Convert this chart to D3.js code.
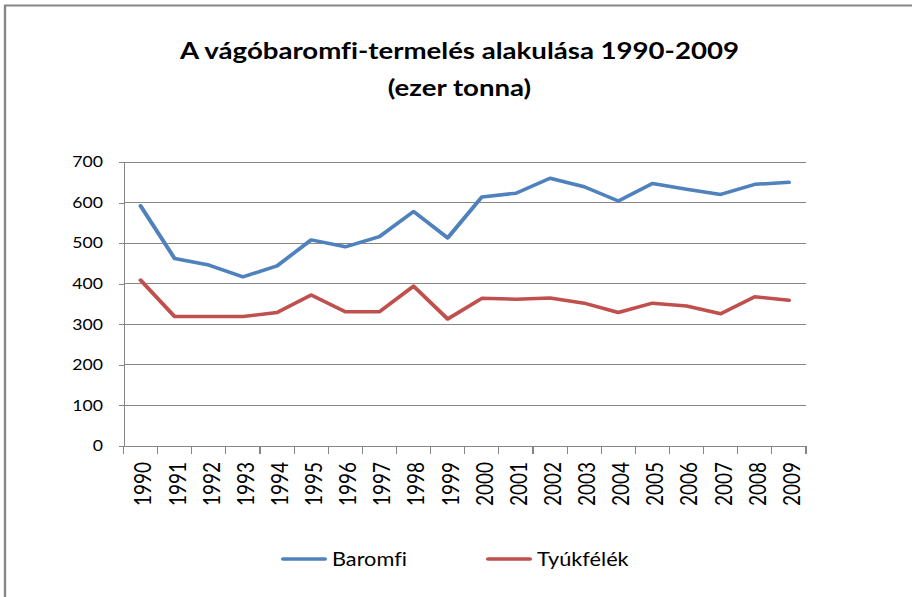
<!DOCTYPE html>
<meta charset="utf-8">
<head>
<style>
body { margin: 0; background: #fff; }
svg text { font-family: Lato, "Liberation Sans", sans-serif; fill: #000; font-variant-ligatures: none; }
.grid line { stroke: #868686; stroke-width: 1; shape-rendering: crispEdges; }
.axis path, .axis line { stroke: #868686; shape-rendering: crispEdges; }
.series { fill: none; stroke-width: 3.5; stroke-linejoin: round; stroke-linecap: round; }
</style>
</head>
<body>
<svg id="chart"></svg>
<script src="https://d3js.org/d3.v7.min.js"></script>
<script>

var years = ["1990", "1991", "1992", "1993", "1994", "1995", "1996", "1997", "1998", "1999",
             "2000", "2001", "2002", "2003", "2004", "2005", "2006", "2007", "2008", "2009"];
var baromfi   = [592, 462, 446, 417, 444, 508, 491, 516, 578, 513, 614, 623, 660, 639, 604, 647, 633, 620, 645, 650];
var tyukfelek = [409, 319, 319, 319, 329, 372, 331, 331, 394, 313, 364, 362, 365, 352, 329, 352, 345, 326, 368, 359];
var seriesNames = ["Baromfi", "Tyúkfélék"];
var seriesColors = ["#4f81bd", "#c0504d"];
var yTicks = [0, 100, 200, 300, 400, 500, 600, 700];
var titleLines = ["A vágóbaromfi-termelés alakulása 1990-2009", "(ezer tonna)"];

// the picture is a bit wider than it is tall, so draw in a narrower box and stretch it
var stretch = 1.175,
    W = 912, H = 597,
    w = W / stretch;
function sx(px) { return px / stretch; }

var svg = d3.select("#chart")
    .attr("width", W).attr("height", H)
    .attr("viewBox", "0 0 " + w + " " + H)
    .attr("preserveAspectRatio", "none");

// outer frame (only left and top edges are visible)
svg.append("path")
    .attr("d", "M" + sx(5) + "," + H + "V5.5H" + w)
    .attr("fill", "none")
    .attr("stroke", "#868686")
    .attr("stroke-width", 2);

var plotLeft = sx(123.5), plotRight = sx(806), plotTop = 162, plotBottom = 446;

var x = d3.scaleBand().domain(years).range([plotLeft, plotRight]);
var y = d3.scaleLinear().domain([0, 700]).range([plotBottom, plotTop]);

// gridlines
svg.append("g").attr("class", "grid")
  .selectAll("line")
  .data(yTicks.slice(1))
  .enter().append("line")
    .attr("x1", plotLeft).attr("x2", plotRight)
    .attr("y1", function(d) { return y(d); })
    .attr("y2", function(d) { return y(d); });

// y axis
var yAxis = svg.append("g")
    .attr("class", "axis")
    .attr("transform", "translate(" + plotLeft + ",0)")
    .call(d3.axisLeft(y).tickValues(yTicks).tickSize(sx(5)).tickSizeOuter(0).tickPadding(sx(15.5)));
yAxis.selectAll("text")
    .style("font-size", "15px")
    .style("font-family", "Lato, 'Liberation Sans', sans-serif")
    .attr("fill", "#000");

// x axis line + ticks at category boundaries
var xg = svg.append("g").attr("class", "axis");
xg.append("line")
    .attr("x1", plotLeft).attr("x2", plotRight)
    .attr("y1", plotBottom).attr("y2", plotBottom);
xg.selectAll(".tick")
  .data(years.concat(["end"]))
  .enter().append("line")
    .attr("class", "tick")
    .attr("x1", function(d, i) { return plotLeft + i * x.step(); })
    .attr("x2", function(d, i) { return plotLeft + i * x.step(); })
    .attr("y1", plotBottom).attr("y2", plotBottom + 8);

xg.selectAll(".lbl")
  .data(years)
  .enter().append("text")
    .attr("class", "lbl")
    .attr("transform", function(d) { return "translate(" + (x(d) + x.bandwidth() / 2 + sx(3)) + "," + (plotBottom + 16) + ") rotate(-90)"; })
    .attr("dy", "0.35em")
    .attr("text-anchor", "end")
    .style("font-size", "19px")
    .text(function(d) { return d; });

// series lines
var line = d3.line()
    .x(function(d, i) { return x(years[i]) + x.bandwidth() / 2; })
    .y(function(d) { return y(d); });

[baromfi, tyukfelek].forEach(function(values, k) {
  svg.append("path")
      .attr("class", "series")
      .attr("stroke", seriesColors[k])
      .attr("d", line(values));
});

// title
svg.selectAll(".title")
  .data(titleLines)
  .enter().append("text")
    .attr("class", "title")
    .attr("x", sx(459.5))
    .attr("y", function(d, i) { return 59.5 + i * 36.5; })
    .attr("text-anchor", "middle")
    .style("font-size", "23.5px")
    .style("font-weight", "bold")
    .text(function(d) { return d; });

// legend
var legendX = [sx(283), sx(488)];
var legend = svg.selectAll(".legend")
  .data(seriesNames)
  .enter().append("g")
    .attr("class", "legend")
    .attr("transform", function(d, i) { return "translate(" + legendX[i] + ",559)"; });

legend.append("line")
    .attr("x1", 0).attr("x2", sx(42))
    .attr("stroke", function(d, i) { return seriesColors[i]; })
    .attr("stroke-width", 3.5)
    .attr("stroke-linecap", "round");

legend.append("text")
    .attr("x", sx(49))
    .attr("y", 6.5)
    .style("font-size", "18.5px")
    .text(function(d) { return d; });

</script>
</body>
</html>
